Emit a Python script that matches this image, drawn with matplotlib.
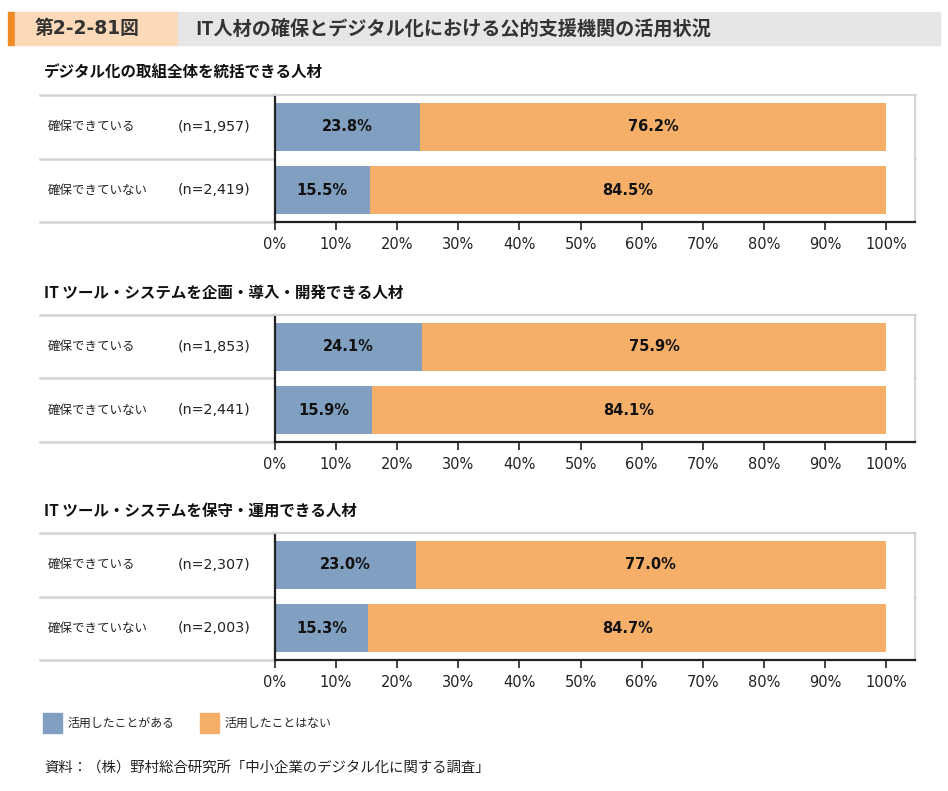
import matplotlib
matplotlib.use("Agg")
import matplotlib.pyplot as plt
from matplotlib.lines import Line2D
from matplotlib.patches import Rectangle

plt.rcParams['font.family'] = ['Noto Sans CJK JP', 'DejaVu Sans']

header_num = "第2-2-81図"
header_title = "IT人材の確保とデジタル化における公的支援機関の活用状況"
panel_titles = ["デジタル化の取組全体を統括できる人材",
                "IT ツール・システムを企画・導入・開発できる人材",
                "IT ツール・システムを保守・運用できる人材"]
row_labels = ["確保できている", "確保できていない"]
n_labels = [["(n=1,957)", "(n=2,419)"],
            ["(n=1,853)", "(n=2,441)"],
            ["(n=2,307)", "(n=2,003)"]]
used = [[23.8, 15.5], [24.1, 15.9], [23.0, 15.3]]
not_used = [[76.2, 84.5], [75.9, 84.1], [77.0, 84.7]]
series_names = ["活用したことがある", "活用したことはない"]
tick_vals = [0, 10, 20, 30, 40, 50, 60, 70, 80, 90, 100]
source = "資料：（株）野村総合研究所「中小企業のデジタル化に関する調査」"

C_BLUE = "#819FC0"
C_ORANGE = "#F5AF69"
C_GRID = "#D4D4D4"

W, H = 948, 791
fig = plt.figure(figsize=(W / 100, H / 100), dpi=100)

def fx(px):
    return px / W

def fy(py):
    return 1 - py / H

# header
fig.add_artist(Rectangle((fx(8), fy(45)), fx(7), fy(12) - fy(45), color="#F08A24", transform=fig.transFigure))
fig.add_artist(Rectangle((fx(15), fy(45)), fx(163), fy(12) - fy(45), color="#FCD9B8", transform=fig.transFigure))
fig.add_artist(Rectangle((fx(178), fy(45)), fx(762), fy(12) - fy(45), color="#E6E6E6", transform=fig.transFigure))
fig.text(fx(35), fy(28.5), header_num, fontsize=13.5, va="center", ha="left", fontweight="bold",
         family=['DejaVu Sans', 'Noto Sans CJK JP'], color="#333333")
fig.text(fx(195), fy(28.5), header_title, fontsize=13.8, va="center", ha="left", fontweight="bold", color="#333333")

ax_left, ax_right = 275, 915
zero_px, hundred_px = 275, 886
xmax = (ax_right - zero_px) / (hundred_px - zero_px) * 100

panel_tops = [95, 315, 533]
panel_h = 127
title_ys = [72, 293, 511]

for p in range(3):
    top = panel_tops[p]
    bottom = top + panel_h
    ax = fig.add_axes([fx(ax_left), fy(bottom), fx(ax_right - ax_left), (bottom - top) / H])
    ax.set_xlim(0, xmax)
    ax.set_ylim(1.0, -1.0)
    ys = [-0.5, 0.5]
    ax.barh(ys, used[p], height=0.76, color=C_BLUE, left=0)
    ax.barh(ys, not_used[p], height=0.76, color=C_ORANGE, left=used[p])
    for i, y in enumerate(ys):
        ax.text(used[p][i] / 2, y, f"{used[p][i]:.1f}%", ha="center", va="center",
                fontsize=10.5, fontweight="bold", family="DejaVu Sans", color="#111111")
        ax.text(used[p][i] + not_used[p][i] / 2, y, f"{not_used[p][i]:.1f}%", ha="center", va="center",
                fontsize=10.5, fontweight="bold", family="DejaVu Sans", color="#111111")
    ax.set_yticks([])
    ax.set_xticks(tick_vals)
    ax.set_xticklabels([f"{v}%" for v in tick_vals], fontsize=10.5, family="DejaVu Sans", color="#222222")
    ax.tick_params(axis="x", direction="out", length=6, width=1.2, color="#222222", pad=5)
    for s in ["left", "bottom"]:
        ax.spines[s].set_color("#222222")
        ax.spines[s].set_linewidth(1.6)
    for s in ["top", "right"]:
        ax.spines[s].set_color(C_GRID)
        ax.spines[s].set_linewidth(1.5)
    mid = top + panel_h / 2
    for yy in [top, mid]:
        fig.add_artist(Line2D([fx(40), fx(ax_right)], [fy(yy), fy(yy)], color=C_GRID, lw=1.8,
                              transform=fig.transFigure, zorder=0))
    fig.add_artist(Line2D([fx(40), fx(ax_left)], [fy(bottom), fy(bottom)], color=C_GRID, lw=1.8,
                          transform=fig.transFigure, zorder=0))
    fig.text(fx(44), fy(title_ys[p]), panel_titles[p], fontsize=11.2, fontweight="bold",
             va="center", ha="left", color="#111111")
    for i in range(2):
        yy = top + panel_h * (0.25 + 0.5 * i)
        fig.text(fx(48), fy(yy), row_labels[i], fontsize=9, va="center", ha="left", color="#222222")
        fig.text(fx(178), fy(yy), n_labels[p][i], fontsize=10.3, va="center", ha="left",
                 family="DejaVu Sans", color="#222222")

# legend
fig.add_artist(Rectangle((fx(43), fy(733)), fx(19), (733 - 713) / H, color=C_BLUE, transform=fig.transFigure))
fig.text(fx(68), fy(723), series_names[0], fontsize=8.6, va="center", ha="left", color="#222222")
fig.add_artist(Rectangle((fx(200), fy(733)), fx(19), (733 - 713) / H, color=C_ORANGE, transform=fig.transFigure))
fig.text(fx(225), fy(723), series_names[1], fontsize=8.6, va="center", ha="left", color="#222222")

fig.text(fx(44), fy(769), source, fontsize=10.4, va="center", ha="left", color="#222222")

fig.savefig("out.png", dpi=100)
